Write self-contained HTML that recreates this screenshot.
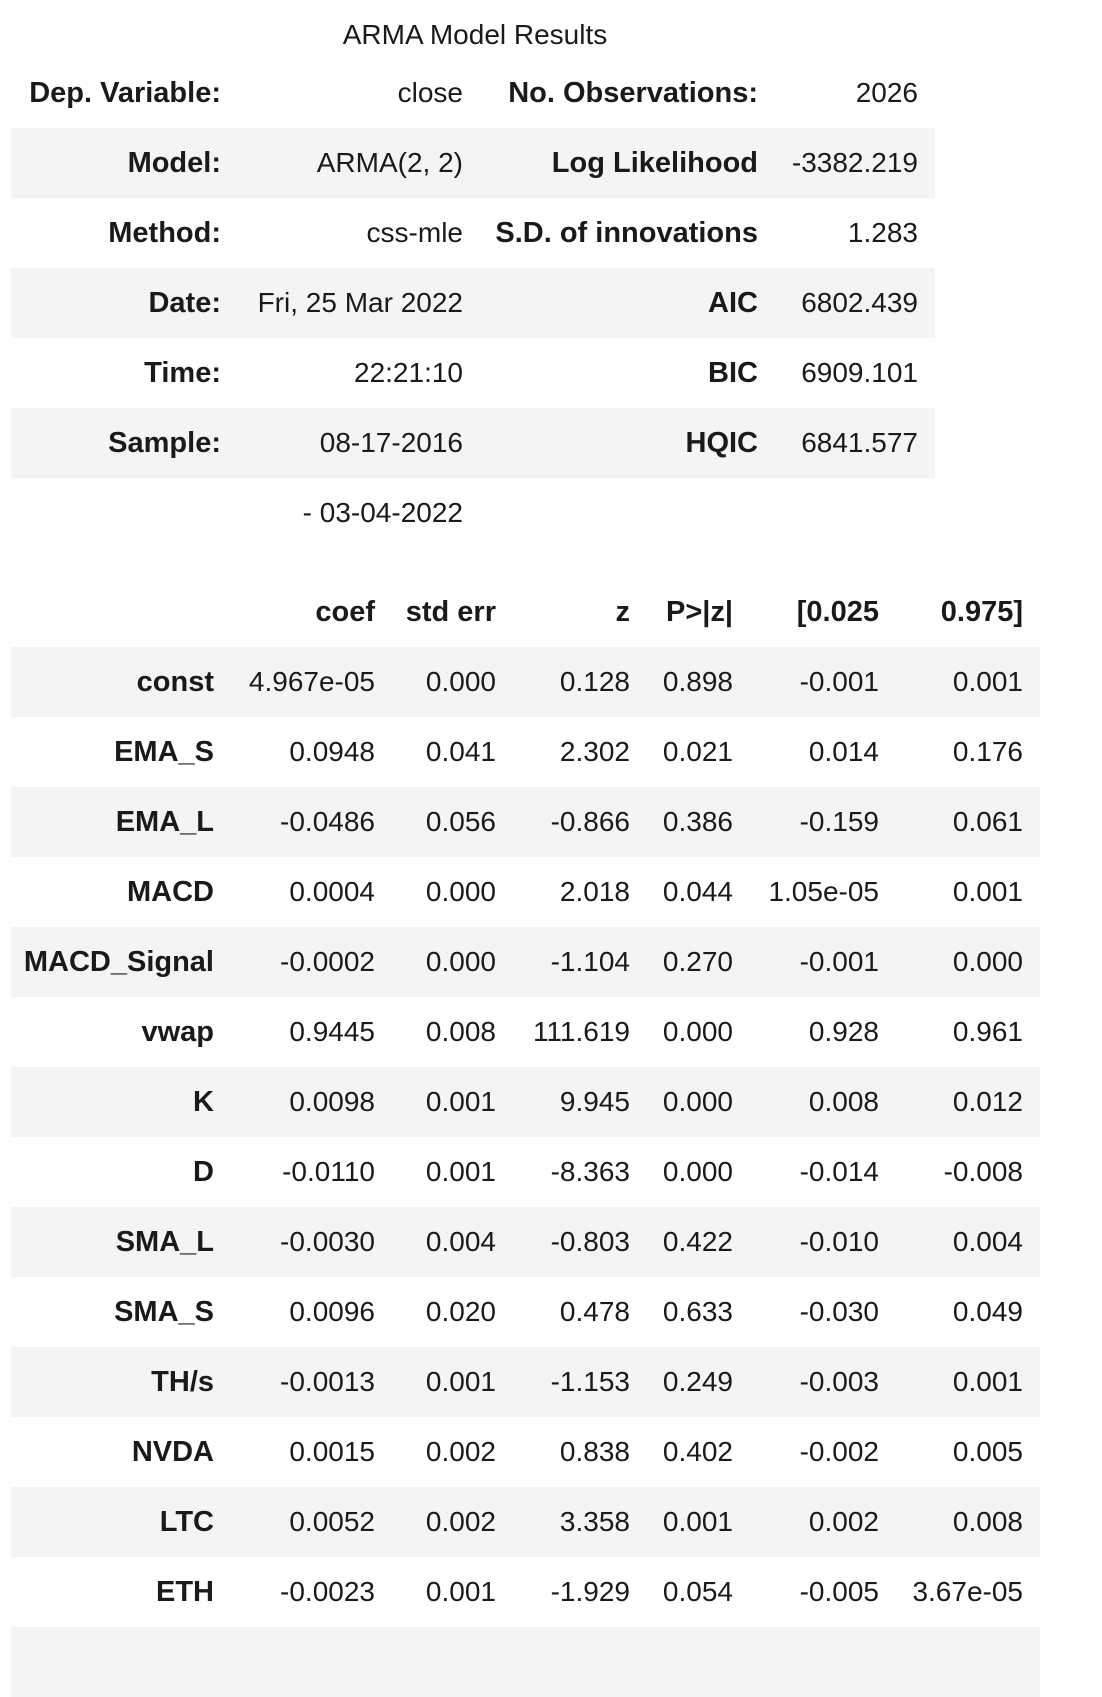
<!DOCTYPE html>
<html><head><meta charset="utf-8"><style>
body{margin:0;width:1102px;height:1630px;background:#fff;position:relative;overflow:hidden;font-family:"Liberation Sans",sans-serif;font-size:28px;color:#1a1a1a}
.band{position:absolute;background:#f4f4f4}
.c{position:absolute;height:70px;line-height:70px;white-space:nowrap;text-align:right}
.b{font-weight:bold;font-size:29px}
</style></head><body>
<div style="position:absolute;left:0;width:950px;top:15px;line-height:40px;text-align:center">ARMA Model Results</div>
<div id="t1"></div>
<div id="t2"></div>
<script>
const top1=[["Dep. Variable:","close","No. Observations:","2026"],["Model:","ARMA(2, 2)","Log Likelihood","-3382.219"],["Method:","css-mle","S.D. of innovations","1.283"],["Date:","Fri, 25 Mar 2022","AIC","6802.439"],["Time:","22:21:10","BIC","6909.101"],["Sample:","08-17-2016","HQIC","6841.577"],["","- 03-04-2022","",""]];
const r1=[221,463,758,918];
const hdr=["","coef","std err","z","P>|z|","[0.025","0.975]"];
const rows=[["const","4.967e-05","0.000","0.128","0.898","-0.001","0.001"],["EMA_S","0.0948","0.041","2.302","0.021","0.014","0.176"],["EMA_L","-0.0486","0.056","-0.866","0.386","-0.159","0.061"],["MACD","0.0004","0.000","2.018","0.044","1.05e-05","0.001"],["MACD_Signal","-0.0002","0.000","-1.104","0.270","-0.001","0.000"],["vwap","0.9445","0.008","111.619","0.000","0.928","0.961"],["K","0.0098","0.001","9.945","0.000","0.008","0.012"],["D","-0.0110","0.001","-8.363","0.000","-0.014","-0.008"],["SMA_L","-0.0030","0.004","-0.803","0.422","-0.010","0.004"],["SMA_S","0.0096","0.020","0.478","0.633","-0.030","0.049"],["TH/s","-0.0013","0.001","-1.153","0.249","-0.003","0.001"],["NVDA","0.0015","0.002","0.838","0.402","-0.002","0.005"],["LTC","0.0052","0.002","3.358","0.001","0.002","0.008"],["ETH","-0.0023","0.001","-1.929","0.054","-0.005","3.67e-05"]];
const r2=[214,375,496,630,733,879,1023];
function cell(parent,txt,right,y,bold){const d=document.createElement('div');


d.className='c'+(bold?' b':'');d.style.right=(1102-right)+'px';d.style.top=y+'px';d.textContent=txt;parent.appendChild(d);}
function band(parent,x,w,y){const d=document.createElement('div');


d.className='band';d.style.left=x+'px';d.style.width=w+'px';d.style.top=y+'px';d.style.height='70px';parent.appendChild(d);}
const t1=document.getElementById('t1'),t2=document.getElementById('t2');
top1.forEach((r,i)=>{const y=58+i*70;if(i%2==1&&i<6)band(t1,11,924,y);
r.forEach((v,j)=>cell(t1,v,r1[j],y,j%2==0));});
hdr.forEach((v,j)=>cell(t2,v,r2[j],577,true));
rows.forEach((r,i)=>{const y=647+i*70;if(i%2==0)band(t2,11,1029,y);
r.forEach((v,j)=>cell(t2,v,r2[j],y,j==0));});
band(t2,11,1029,1627);
</script>
</body></html>
